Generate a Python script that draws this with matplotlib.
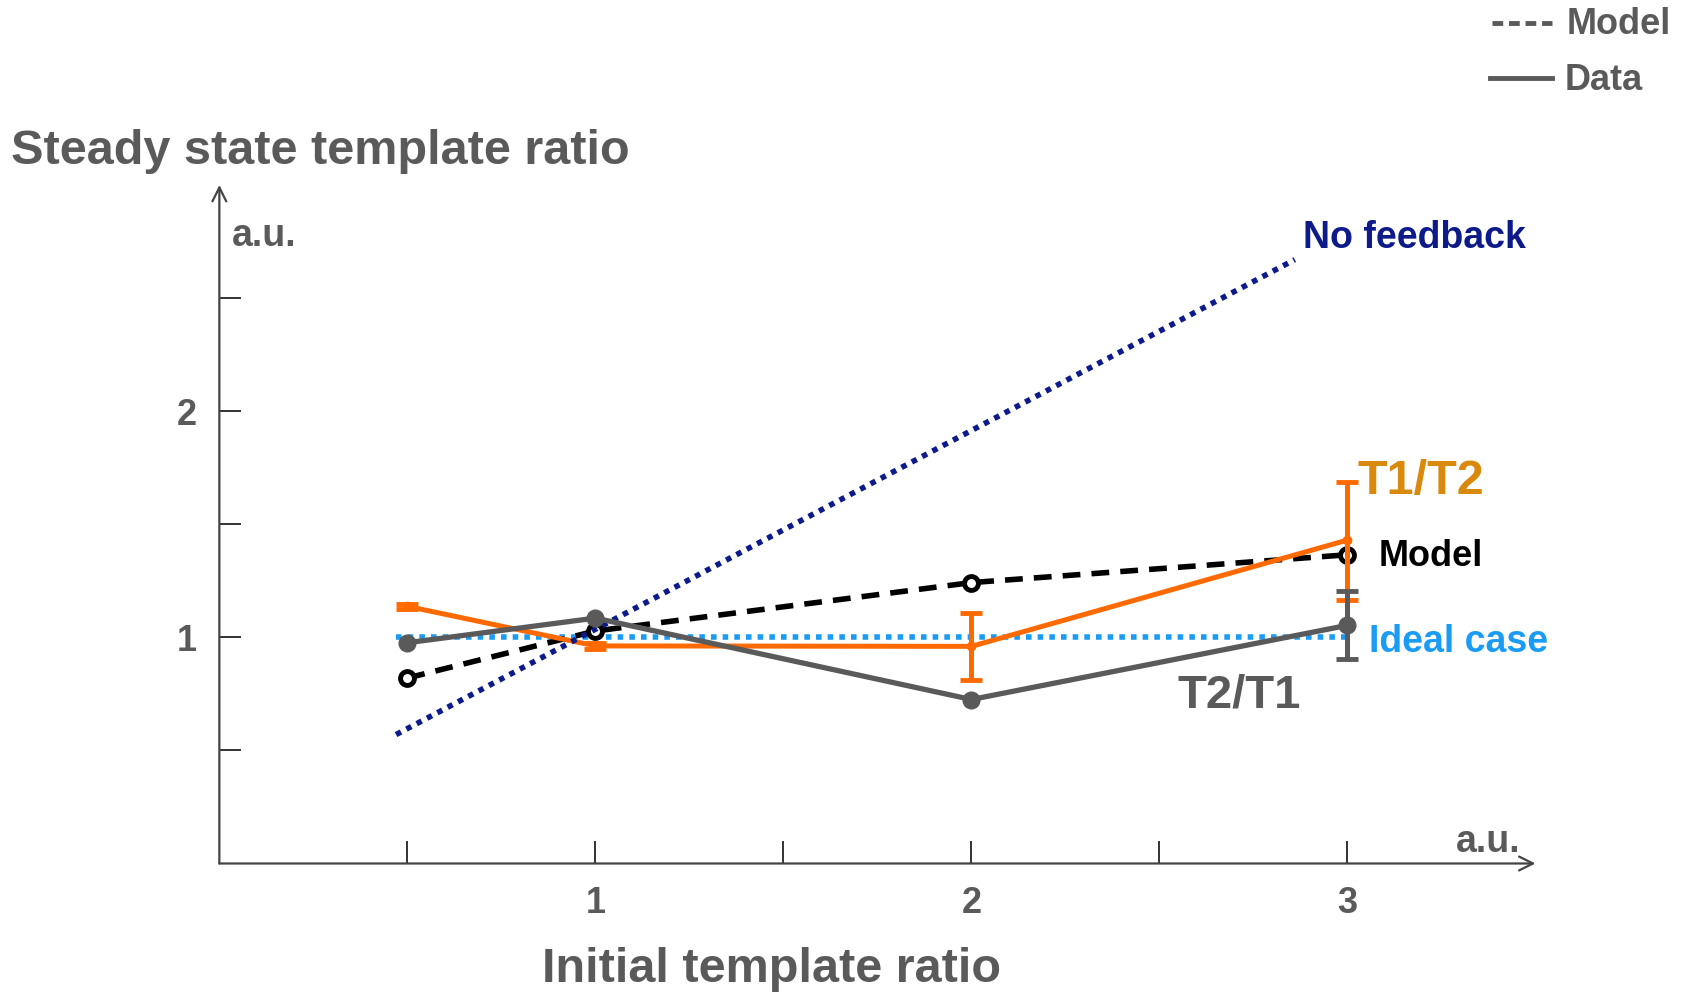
import matplotlib
matplotlib.use("Agg")
import matplotlib.pyplot as plt
from matplotlib.lines import Line2D

plt.rcParams['font.family'] = ['Liberation Sans', 'DejaVu Sans']
plt.rcParams['font.weight'] = 'bold'

GRAY = '#5a5a5a'
ORANGE = '#ff6a00'
NAVY = '#0d1a8a'
LBLUE = '#1a9cf5'
GOLD = '#d98a0c'

# data
x_pts = [0.5, 1, 2, 3]
data_t2t1 = [0.976, 1.085, 0.725, 1.053]
data_t2t1_err_x = [3]
data_t2t1_err_y = [1.053]
data_t2t1_err_lo = [0.151]
data_t2t1_err_hi = [0.150]

data_t1t2 = [1.137, 0.962, 0.960, 1.430]
data_t1t2_err_lo = [0.012, 0.015, 0.150, 0.267]
data_t1t2_err_hi = [0.012, 0.015, 0.147, 0.257]

model_t1t2 = [0.82, 1.028, 1.242, 1.365]

nofb_x = [0.47, 2.86]
nofb_y = [0.57, 2.67]

ideal_x = [0.47, 3.0]
ideal_y = [1.0, 1.0]

yticks = [0.5, 1, 1.5, 2, 2.5]
ytick_labels = ['', '1', '', '2', '']
xticks = [0.5, 1, 1.5, 2, 2.5, 3]
xtick_labels = ['', '1', '', '2', '', '3']

fig = plt.figure(figsize=(16.86, 9.94), dpi=100)
ax = fig.add_axes([0.1301, 0.1313, 0.7806, 0.6826])
ax.set_xlim(0, 3.5)
ax.set_ylim(0, 3)
for s in ax.spines.values():
    s.set_visible(False)

# axes arrows
ax.annotate('', xy=(3.5, 0), xytext=(0, 0),
            arrowprops=dict(arrowstyle='->', color='#444444', lw=1.6,
                            mutation_scale=25, shrinkA=0, shrinkB=0),
            annotation_clip=False)
ax.annotate('', xy=(0, 3), xytext=(0, 0),
            arrowprops=dict(arrowstyle='->', color='#444444', lw=1.6,
                            mutation_scale=25, shrinkA=0, shrinkB=0),
            annotation_clip=False)

ax.set_xticks(xticks)
ax.set_xticklabels(xtick_labels)
ax.set_yticks(yticks)
ax.set_yticklabels(ytick_labels)
ax.tick_params(axis='both', direction='in', length=16, width=1.4, color='#333333',
               labelsize=26, labelcolor=GRAY, pad=16)

# ideal case
ax.plot(ideal_x, ideal_y, color=LBLUE, lw=4, linestyle=(0, (1, 1.1)), zorder=2)
# no feedback
ax.plot(nofb_x, nofb_y, color=NAVY, lw=4, linestyle=(0, (1, 1.1)), zorder=5)
# model
ax.plot(x_pts, model_t1t2, color='black', lw=4, linestyle=(0, (3.2, 2.0)), zorder=3,
        marker='o', markersize=10, markerfacecolor='white', markeredgecolor='black',
        markeredgewidth=3.5)
# orange data
ax.errorbar(x_pts, data_t1t2, yerr=[data_t1t2_err_lo, data_t1t2_err_hi], color=ORANGE,
            lw=3.6, marker='o', markersize=6, capsize=8, capthick=3.5, elinewidth=3.6, zorder=4)
# gray data
ax.plot(x_pts, data_t2t1, color=GRAY, lw=3.8, marker='o', markersize=12, zorder=6)
ax.errorbar(data_t2t1_err_x, data_t2t1_err_y, yerr=[data_t2t1_err_lo, data_t2t1_err_hi],
            color=GRAY, lw=0, elinewidth=3.6, capsize=8, capthick=3.5, zorder=6)

# labels on plot
ax.text(2.883, 2.764, 'No feedback', color=NAVY, fontsize=27, va='center', ha='left')
ax.text(3.026, 1.688, 'T1/T2', color=GOLD, fontsize=35, va='center', ha='left')
ax.text(3.083, 1.356, 'Model', color='black', fontsize=26, va='center', ha='left')
ax.text(3.057, 0.980, 'Ideal case', color=LBLUE, fontsize=27, va='center', ha='left')
ax.text(2.549, 0.742, 'T2/T1', color=GRAY, fontsize=34, va='center', ha='left')
ax.text(0.034, 2.776, 'a.u.', color=GRAY, fontsize=27, va='center', ha='left')
ax.text(3.46, 0.096, 'a.u.', color=GRAY, fontsize=27, va='center', ha='right')

# axis titles
fig.text(11 / 1686, 1 - 151 / 994, 'Steady state template ratio', color=GRAY,
         fontsize=35, ha='left', va='center')
fig.text(772 / 1686, 1 - 970 / 994, 'Initial template ratio', color=GRAY,
         fontsize=35, ha='center', va='center')

# legend (top right)
fig.add_artist(Line2D([1492 / 1686, 1552 / 1686], [1 - 23 / 994, 1 - 23 / 994],
                      color=GRAY, lw=3.5, linestyle=(0, (2.2, 1.2))))
fig.add_artist(Line2D([1490 / 1686, 1552 / 1686], [1 - 78 / 994, 1 - 78 / 994],
                      color=GRAY, lw=3.5))
fig.text(1567 / 1686, 1 - 25 / 994, 'Model', color=GRAY, fontsize=26, ha='left', va='center')
fig.text(1565 / 1686, 1 - 80 / 994, 'Data', color=GRAY, fontsize=26, ha='left', va='center')

fig.savefig('out.png', dpi=100)
